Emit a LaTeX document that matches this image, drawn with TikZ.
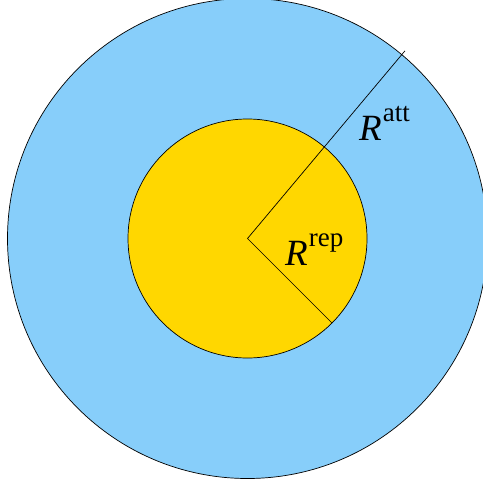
\documentclass[tikz,border=0pt]{standalone}
\usepackage{fontspec}
\setmainfont{Liberation Serif}
\usetikzlibrary{calc}
\definecolor{attblue}{RGB}{135,206,250}
\definecolor{repgold}{RGB}{255,215,0}
\begin{document}
\begin{tikzpicture}[x=1pt,y=-1pt,
  ring/.style={draw=black,line width=0.7pt},
  radius line/.style={draw=black,line width=0.7pt},
  lbl/.style={inner sep=0pt,anchor=base west}]
\useasboundingbox (0,0) rectangle (482,487);
\fill[white] (0,0) rectangle (482,487);
\coordinate (c) at (247.5,238.5);
\path[ring,fill=attblue] (c) circle[radius=240pt];
\path[ring,fill=repgold] (c) circle[radius=119.5pt];
\coordinate (att) at ($(c)+(50:245pt)$);
\coordinate (rep) at ($(c)+(-45:119.5pt)$);
\draw[radius line] (att) -- (c) -- (rep);
\node[lbl] (Ratt) at (359,140) {\fontsize{37}{42}\selectfont\textit{R}\hspace{1pt}\raisebox{19pt}{\fontsize{27}{30}\selectfont att}};
\node[lbl] (Rrep) at (285,265) {\fontsize{37}{42}\selectfont\textit{R}\hspace{1pt}\raisebox{19pt}{\fontsize{27}{30}\selectfont rep}};
\end{tikzpicture}
\end{document}
